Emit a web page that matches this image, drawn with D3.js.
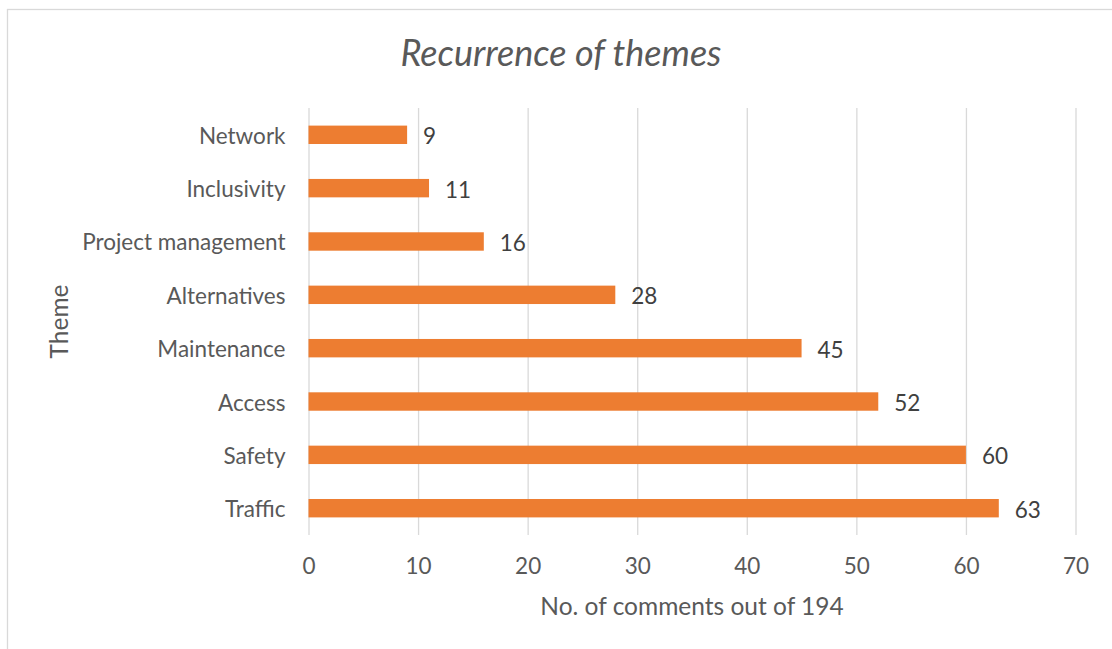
<!DOCTYPE html>
<html>
<head>
<meta charset="utf-8">
<script src="https://cdn.jsdelivr.net/npm/d3@7"></script>
<style>
  html, body { margin: 0; padding: 0; background: #fff; }
  svg { display: block; font-family: Lato, "Noto Sans", sans-serif; }
</style>
</head>
<body>
<svg id="chart" width="1112" height="649"></svg>
<script>
// Themes, listed top to bottom, and how many comments mentioned each
const themes = ["Network", "Inclusivity", "Project management", "Alternatives",
                "Maintenance", "Access", "Safety", "Traffic"];
const counts = [9, 11, 16, 28, 45, 52, 60, 63];
const xTicks = [0, 10, 20, 30, 40, 50, 60, 70];

const chartTitle = "Recurrence of themes";
const xTitle = "No. of comments out of 194";
const yTitle = "Theme";

const W = 1112, H = 649;
const plot = { left: 308.5, right: 1075.5, top: 108, bottom: 535 };
const textColor = "#595959";
const barColor = "#ED7D31";
const gridColor = "#D9D9D9";
const labelSize = 22.5;

const svg = d3.select("#chart");

// outer frame of the chart area
svg.append("rect")
  .attr("x", 7.5).attr("y", 9.5)
  .attr("width", W + 20).attr("height", H + 20)
  .attr("fill", "#fff").attr("stroke", gridColor).attr("stroke-width", 1.3);

const x = d3.scaleLinear().domain([0, 70]).range([plot.left, plot.right]);
const y = d3.scaleBand().domain(themes).range([plot.top, plot.bottom]).paddingInner(0.655).paddingOuter(0.33);

// vertical gridlines with value ticks
const xAxis = d3.axisBottom(x).tickValues(xTicks).tickSize(-(plot.bottom - plot.top)).tickPadding(23);
const gx = svg.append("g")
  .attr("transform", `translate(0,${plot.bottom})`)
  .call(xAxis);
gx.select(".domain").remove();
gx.selectAll(".tick line").attr("stroke", gridColor).attr("stroke-width", 1.3);
gx.selectAll(".tick text")
  .attr("fill", textColor).attr("font-size", labelSize).attr("font-family", "Lato")
  .attr("dy", "0.71em");

// category axis
const yAxis = d3.axisLeft(y).tickSize(0).tickPadding(23);
const gy = svg.append("g")
  .attr("transform", `translate(${plot.left},0)`)
  .call(yAxis);
gy.select(".domain").remove();
gy.selectAll(".tick text")
  .attr("fill", textColor).attr("font-size", labelSize).attr("font-family", "Lato")
  .attr("dy", "0.4em");

// bars
svg.append("g").selectAll("rect")
  .data(themes)
  .join("rect")
  .attr("x", x(0))
  .attr("y", d => y(d))
  .attr("width", (d, i) => x(counts[i]) - x(0))
  .attr("height", y.bandwidth())
  .attr("fill", barColor);

// value labels
svg.append("g").selectAll("text")
  .data(themes)
  .join("text")
  .attr("x", (d, i) => x(counts[i]) + 16)
  .attr("y", d => y(d) + y.bandwidth() / 2)
  .attr("dy", "0.42em")
  .attr("fill", "#404040")
  .attr("font-size", labelSize)
  .text((d, i) => counts[i]);

// titles
svg.append("text")
  .attr("x", 561).attr("y", 66)
  .attr("text-anchor", "middle")
  .attr("fill", textColor)
  .attr("font-size", 36)
  .attr("font-style", "italic")
  .text(chartTitle);

svg.append("text")
  .attr("x", 692).attr("y", 615)
  .attr("text-anchor", "middle")
  .attr("fill", textColor)
  .attr("font-size", 24.5)
  .text(xTitle);

svg.append("text")
  .attr("transform", `translate(68,${(plot.top + plot.bottom) / 2}) rotate(-90)`)
  .attr("text-anchor", "middle")
  .attr("fill", textColor)
  .attr("font-size", 24.5)
  .text(yTitle);
</script>
</body>
</html>
